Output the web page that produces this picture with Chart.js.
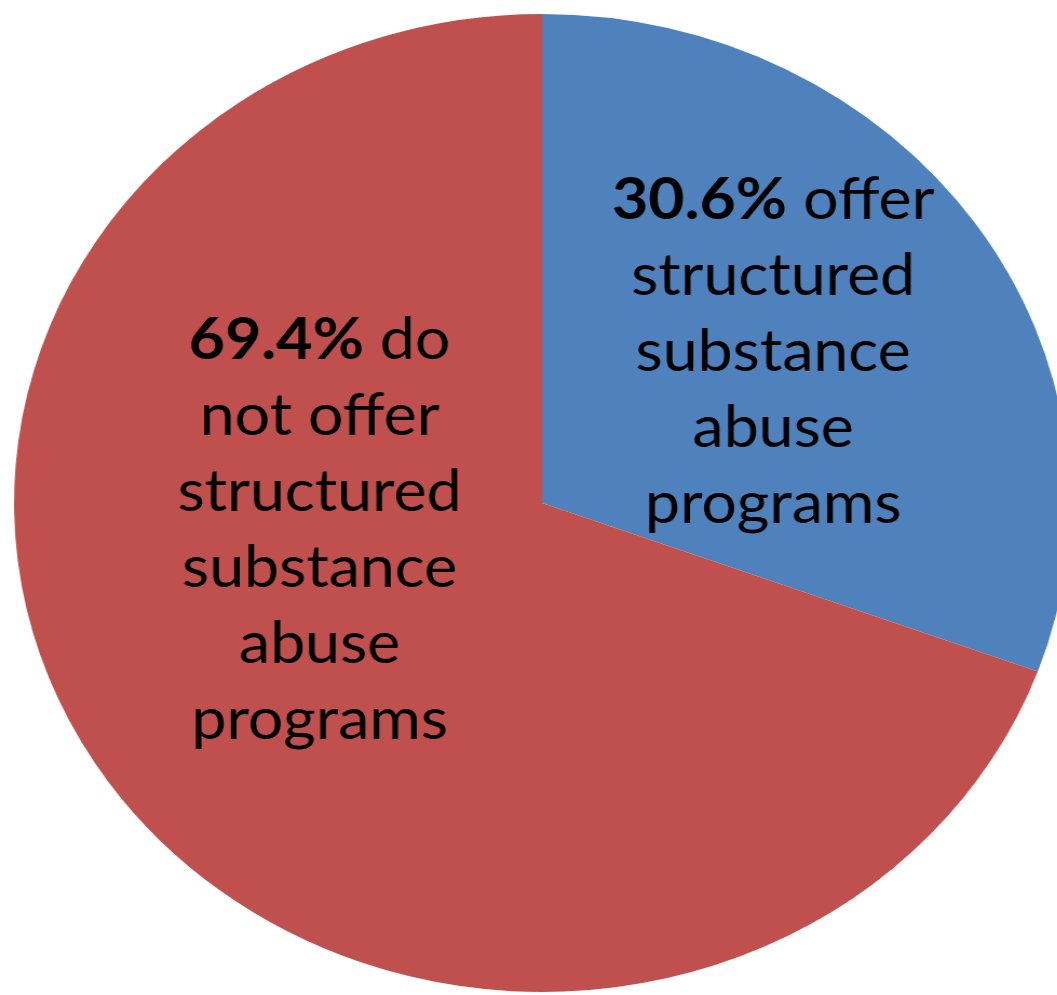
<!DOCTYPE html>
<html>
<head>
<meta charset="utf-8">
<script src="https://cdn.jsdelivr.net/npm/chart.js@4/dist/chart.umd.min.js"></script>
<style>
  html, body { margin: 0; padding: 0; background: #fff; }
  #wrap { width: 1057px; height: 995px; overflow: hidden; position: relative; }
  /* the pie is drawn round, then widened a little to an oval */
  #stage { position: absolute; left: 0; top: 0; transform: scaleX(1.0798); transform-origin: 0 0; }
</style>
</head>
<body>
<div id="wrap">
  <div id="stage"><canvas id="pie" width="1004" height="995"></canvas></div>
</div>
<script>
const categories = ['offer structured substance abuse programs', 'do not offer structured substance abuse programs'];
const shares = [30.6, 69.4];
const colors = ['#4F81BD', '#C0504D'];
// label lines per slice; first line starts with the bold percentage
const labelLines = [
    ['offer', 'structured', 'substance', 'abuse', 'programs'],
    ['do', 'not offer', 'structured', 'substance', 'abuse', 'programs']
];
const labelCenters = [[716, 200], [296, 340]];

const FONT = 'Lato, "Open Sans", sans-serif';
const SIZE = 58;
const LINE = 76;

const sliceLabels = {
    id: 'sliceLabels',
    afterDatasetsDraw(chart) {
        const ctx = chart.ctx;
        ctx.save();
        ctx.fillStyle = '#000';
        ctx.textBaseline = 'middle';
        ctx.textAlign = 'left';
        labelLines.forEach((lines, i) => {
            const [cx, cy] = labelCenters[i];
            lines.forEach((txt, j) => {
                const y = cy + j * LINE;
                if (j === 0) {
                    const pct = shares[i].toFixed(1) + '%';
                    ctx.font = `bold ${SIZE}px ${FONT}`;
                    const wb = ctx.measureText(pct).width;
                    ctx.font = `${SIZE}px ${FONT}`;
                    const rest = ' ' + txt;
                    const wr = ctx.measureText(rest).width;
                    let x = cx - (wb + wr) / 2;
                    ctx.font = `bold ${SIZE}px ${FONT}`;
                    ctx.fillText(pct, x, y);
                    ctx.font = `${SIZE}px ${FONT}`;
                    ctx.fillText(rest, x + wb, y);
                } else {
                    ctx.font = `${SIZE}px ${FONT}`;
                    const w = ctx.measureText(txt).width;
                    ctx.fillText(txt, cx - w / 2, y);
                }
            });
        });
        ctx.restore();
    }
};

new Chart(document.getElementById('pie'), {
    type: 'pie',
    data: {
        labels: categories,
        datasets: [{
            data: shares,
            backgroundColor: colors,
            borderWidth: 0
        }]
    },
    options: {
        responsive: false,
        animation: false,
        layout: { padding: { top: 14, bottom: 3 } },
        plugins: {
            legend: { display: false },
            tooltip: { enabled: false }
        }
    },
    plugins: [sliceLabels]
});
</script>
</body>
</html>
